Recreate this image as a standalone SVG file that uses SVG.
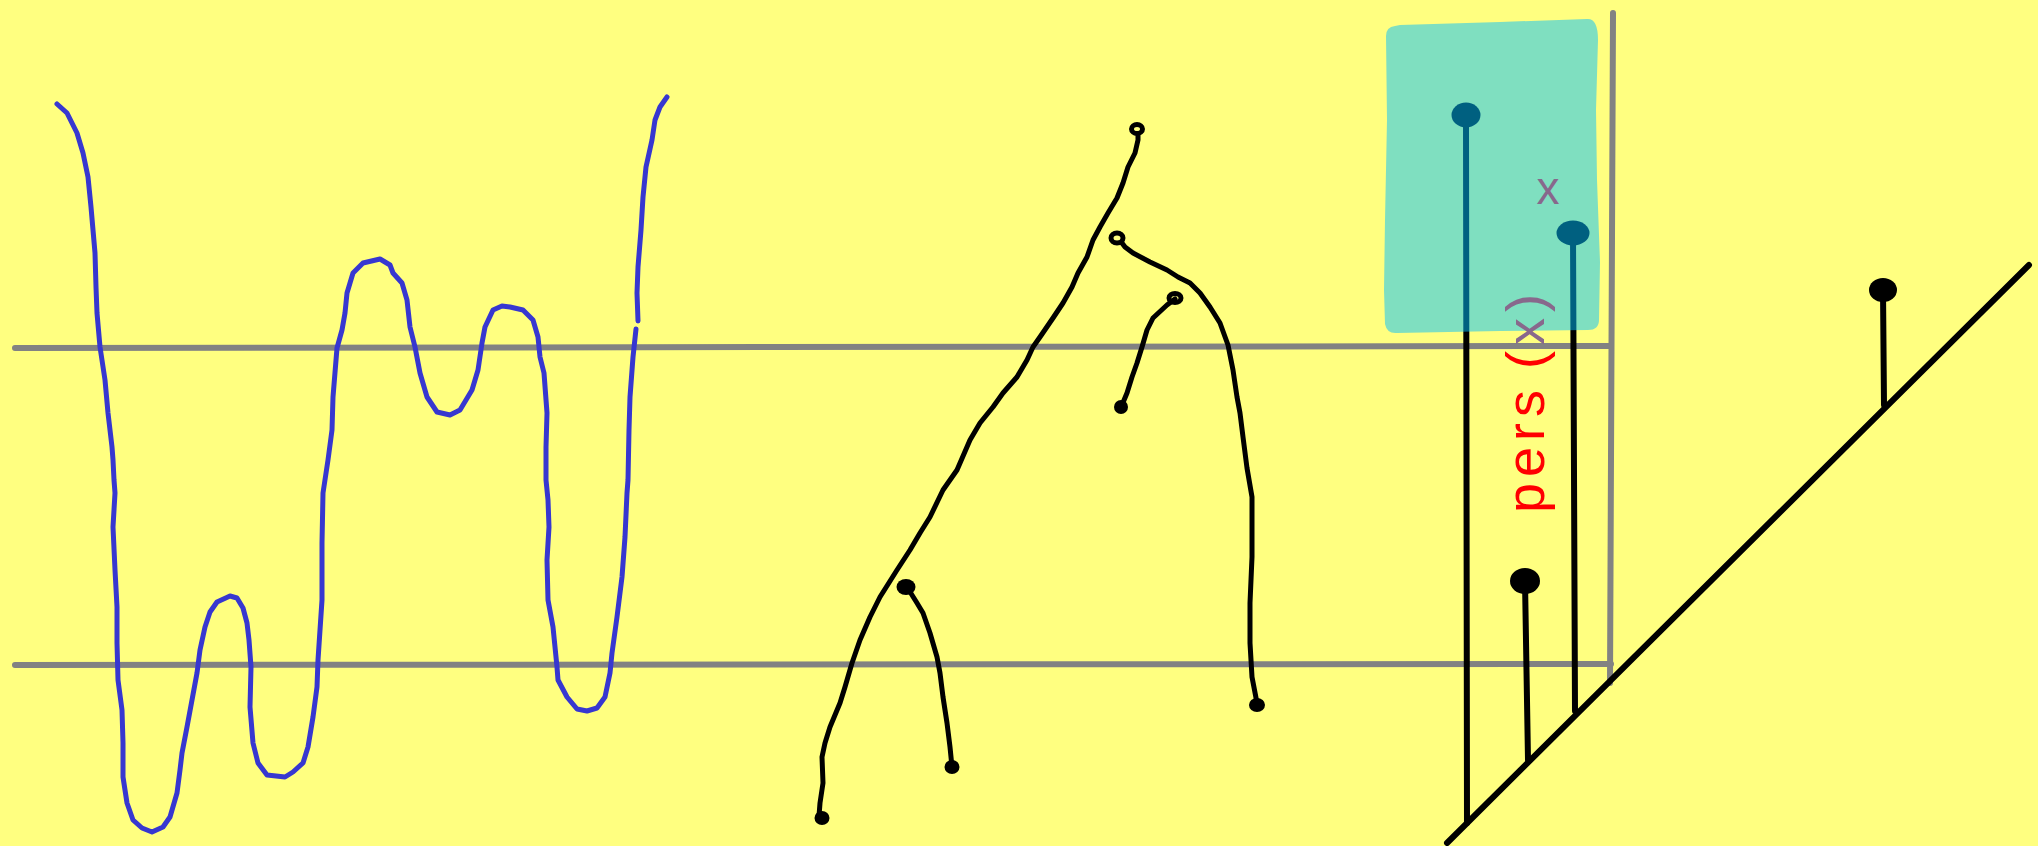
<svg xmlns="http://www.w3.org/2000/svg" width="2038" height="846" viewBox="0 0 2038 846">
<style>
.gray{stroke:#828282;stroke-width:6;stroke-linecap:round;fill:none}
.blue{stroke:#3737d0;stroke-width:5;stroke-linecap:round;stroke-linejoin:round;fill:none}
.ink{stroke:#000;stroke-width:5;stroke-linecap:round;stroke-linejoin:round;fill:none}
.ring{stroke:#000;stroke-width:5;fill:none}
.dot{fill:#000}
.pin{stroke:#000;stroke-width:6;stroke-linecap:round;fill:none}
.lbl{font-family:"Liberation Sans",Arial,sans-serif;font-size:54px}
</style>
<rect x="0" y="0" width="2038" height="846" fill="#ffff80"/>

<g id="guides">
<line class="gray" x1="15" y1="348" x2="1611" y2="346"/>
<line class="gray" x1="15" y1="665" x2="1611" y2="664"/>
<line class="gray" x1="1613" y1="13" x2="1610" y2="683"/>
</g>

<g id="blue-curve">
<polyline class="blue" points="57,104 67,113 77,133 83,153 88,177 91,207 93,230 95,253 96,287 97,313 100,347 105,380 108,413 112,447 113,460 114,480 115,493 113,527 115,570 117,607 117,643 118,680 122,710 123,743 123,777 127,803 133,820 142,828 152,832 163,827 170,817 177,793 180,770 182,753 187,727 192,700 197,673 200,650 205,627 210,612 217,602 230,596 237,598 243,608 247,623 249,640 251,667 250,707 253,743 258,763 267,775 285,777 293,772 303,763 308,747 313,717 317,687 318,660 322,600 322,543 323,493 328,460 332,430 333,397 337,348 342,330 345,313 347,293 353,273 363,263 380,259 390,265 393,273 402,283 407,300 410,327 415,347 420,373 427,397 437,412 450,415 460,410 472,390 478,370 482,343 485,327 493,310 502,306 510,307 523,310 533,320 538,337 540,357 544,373 547,413 546,447 546,480 548,500 549,527 547,560 548,600 553,627 557,667 558,680 567,697 577,709 587,711 597,708 605,697 610,673 612,653 617,617 622,577 625,537 627,493 628,480 629,430 630,397 633,357 636,329"/>
<polyline class="blue" points="638,321 637,293 638,267 641,230 643,197 646,167 652,140 655,120 660,107 667,97"/>
</g>

<g id="black-curves">
<g id="curve-1">
<polyline class="ink" points="1138,136 1138,140 1135,153 1128,167 1123,183 1117,198 1108,213 1100,227 1093,240 1087,257 1078,273 1072,287 1063,303 1053,318 1040,337 1033,347 1027,360 1017,377 1003,393 993,407 980,423 970,440 957,470 943,490 930,517 920,533 910,550 897,570 880,597 870,617 860,640 852,663 845,687 840,703 830,727 825,743 822,757 823,783 820,803 819,816"/>
<ellipse class="ring" cx="1137" cy="129" rx="5.5" ry="4.5"/>
<ellipse class="dot" cx="822" cy="818" rx="7.5" ry="7"/>
</g>
<g id="curve-2">
<polyline class="ink" points="907,587 917,603 923,613 930,633 937,657 940,673 943,697 947,723 950,747 952,767"/>
<ellipse class="dot" cx="906" cy="587" rx="9.5" ry="8"/>
<ellipse class="dot" cx="952" cy="767" rx="7.5" ry="7"/>
</g>
<g id="curve-3">
<polyline class="ink" points="1122,243 1125,247 1133,253 1150,262 1167,270 1178,277 1190,283 1200,293 1210,307 1220,323 1228,345 1233,370 1237,397 1240,413 1243,437 1247,468 1252,497 1252,557 1250,603 1250,643 1252,677 1257,703"/>
<ellipse class="ring" cx="1117" cy="238" rx="6" ry="5"/>
<ellipse class="dot" cx="1257" cy="705" rx="8" ry="7"/>
</g>
<g id="curve-4">
<polyline class="ink" points="1175,299 1167,305 1153,318 1147,330 1142,347 1137,363 1132,377 1127,393 1122,405"/>
<ellipse class="ring" cx="1175" cy="298" rx="6" ry="4.5"/>
<ellipse class="dot" cx="1121" cy="407" rx="7" ry="7"/>
</g>
</g>

<g id="baseline">
<line class="pin" x1="1447" y1="843" x2="2029" y2="265"/>
</g>

<g id="pin-1">
<line class="pin" x1="1466" y1="115" x2="1467" y2="823"/>
<ellipse class="dot" cx="1466" cy="115" rx="14.5" ry="12.5"/>
</g>
<g id="pin-2">
<line class="pin" x1="1525" y1="581" x2="1528" y2="760"/>
<ellipse class="dot" cx="1525" cy="581" rx="15" ry="13"/>
</g>
<g id="pin-3">
<line class="pin" x1="1573" y1="233" x2="1575" y2="711"/>
<ellipse class="dot" cx="1573" cy="233" rx="16.5" ry="12.5"/>
</g>
<g id="pin-4">
<line class="pin" x1="1883" y1="290" x2="1884" y2="405"/>
<ellipse class="dot" cx="1883" cy="290" rx="14" ry="12"/>
</g>

<g id="region">
<path d="M1395,26 Q1386,27 1386,36 L1387,120 L1385,220 L1384,290 L1385,324 Q1387,334 1397,333 L1500,331 L1588,330 Q1599,330 1599,320 L1600,262 L1597,180 L1596,110 L1598,40 Q1598,18 1587,19 L1500,22 L1400,25 Z" fill="#00c0ff" fill-opacity="0.5"/>
</g>

<g id="labels">
<text class="lbl" transform="translate(1544,513) rotate(-90)" letter-spacing="6"><tspan fill="#ff0000">pers</tspan><tspan fill="#ff0000" dx="15">(</tspan><tspan fill="#88688c">x)</tspan></text>
<text x="1548" y="204" text-anchor="middle" style="font-family:'Liberation Sans',Arial,sans-serif;font-size:46px" fill="#88688c">x</text>
</g>
</svg>
